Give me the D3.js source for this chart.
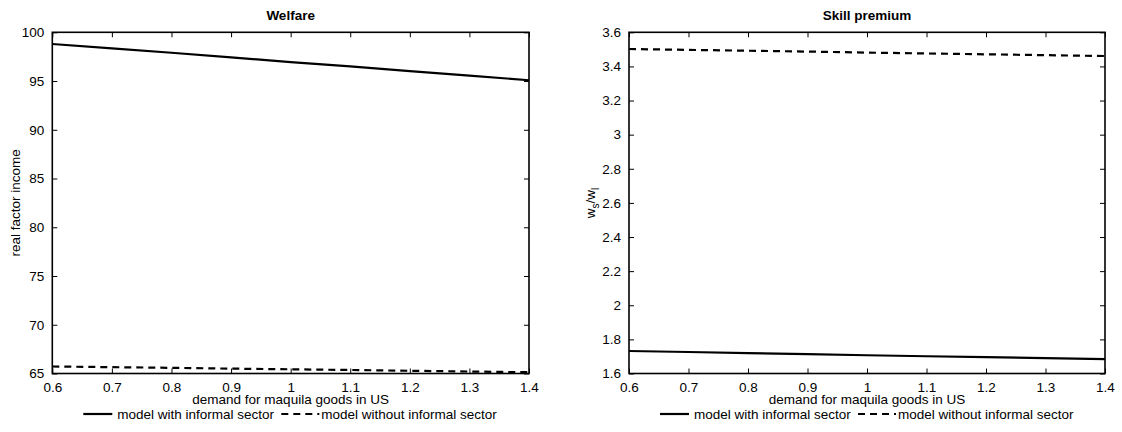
<!DOCTYPE html>
<html>
<head>
<meta charset="utf-8">
<script src="https://cdn.jsdelivr.net/npm/d3@7"></script>
<style>
  body { margin: 0; background: #fff; }
  svg { display: block; font-family: "Liberation Sans", Arial, Helvetica, sans-serif; }
  .tick text { font-size: 13.5px; fill: #000; }
</style>
</head>
<body>
<div id="chart"></div>
<script>
// demand for maquila goods in US
const demand = [0.6, 0.7, 0.8, 0.9, 1.0, 1.1, 1.2, 1.3, 1.4];

// Welfare: real factor income
const welfareInformal = [98.8, 98.35, 97.9, 97.42, 96.95, 96.5, 96.02, 95.56, 95.08];
const welfareNoInformal = [65.72, 65.65, 65.58, 65.5, 65.43, 65.36, 65.28, 65.2, 65.13];

// Skill premium: ws/wl
const skillInformal = [1.732, 1.726, 1.719, 1.713, 1.707, 1.701, 1.696, 1.69, 1.684];
const skillNoInformal = [3.502, 3.497, 3.492, 3.487, 3.481, 3.476, 3.471, 3.466, 3.461];

const xTicks = [0.6, 0.7, 0.8, 0.9, 1, 1.1, 1.2, 1.3, 1.4];
const welfareTicks = [65, 70, 75, 80, 85, 90, 95, 100];
const skillTicks = [1.6, 1.8, 2, 2.2, 2.4, 2.6, 2.8, 3, 3.2, 3.4, 3.6];

const seriesNames = ["model with informal sector", "model without informal sector"];

const W = 1122, H = 432;
const svg = d3.select("#chart").append("svg")
    .attr("width", W)
    .attr("height", H);

const plotTop = 32.3, plotBottom = 373.5;

function panel(opts) {
    const x = d3.scaleLinear().domain([0.6, 1.4]).range([opts.left, opts.right]);
    const y = d3.scaleLinear().domain(opts.yDomain).range([plotBottom, plotTop]);
    const g = svg.append("g");
    const tickLen = 5;

    // inward ticks on all four sides
    g.append("g").attr("transform", `translate(0,${plotBottom})`)
        .call(d3.axisBottom(x).tickValues(xTicks).tickSizeInner(-tickLen).tickSizeOuter(0).tickPadding(9).tickFormat(d3.format("~g")))
        .call(a => a.select(".domain").remove());
    g.append("g").attr("transform", `translate(0,${plotTop})`)
        .call(d3.axisTop(x).tickValues(xTicks).tickSizeInner(-tickLen).tickSizeOuter(0).tickFormat(""))
        .call(a => a.select(".domain").remove());
    g.append("g").attr("transform", `translate(${opts.left},0)`)
        .call(d3.axisLeft(y).tickValues(opts.yTicks).tickSizeInner(-tickLen).tickSizeOuter(0).tickPadding(8).tickFormat(d3.format("~g")))
        .call(a => a.select(".domain").remove());
    g.append("g").attr("transform", `translate(${opts.right},0)`)
        .call(d3.axisRight(y).tickValues(opts.yTicks).tickSizeInner(-tickLen).tickSizeOuter(0).tickFormat(""))
        .call(a => a.select(".domain").remove());
    g.selectAll(".tick line").attr("stroke", "#000").attr("stroke-width", 1);

    // box
    g.append("rect")
        .attr("x", opts.left).attr("y", plotTop)
        .attr("width", opts.right - opts.left).attr("height", plotBottom - plotTop)
        .attr("fill", "none").attr("stroke", "#000").attr("stroke-width", 1.6);

    const line = d3.line().x((d, i) => x(demand[i])).y(d => y(d));
    g.append("path").datum(opts.solid)
        .attr("d", line).attr("fill", "none")
        .attr("stroke", "#000").attr("stroke-width", 2.2);
    g.append("path").datum(opts.dashed)
        .attr("d", line).attr("fill", "none")
        .attr("stroke", "#000").attr("stroke-width", 2.2)
        .attr("stroke-dasharray", "7,5");

    const cx = (opts.left + opts.right) / 2;
    g.append("text").attr("x", cx).attr("y", 20)
        .attr("text-anchor", "middle").attr("font-size", 13.5).attr("font-weight", "bold")
        .text(opts.title);
    g.append("text").attr("x", cx).attr("y", 404)
        .attr("text-anchor", "middle").attr("font-size", 13.5)
        .text("demand for maquila goods in US");

    // y label
    const yl = g.append("text")
        .attr("transform", `translate(${opts.ylabelX},${(plotTop + plotBottom) / 2}) rotate(-90)`)
        .attr("text-anchor", "middle").attr("font-size", 13.5);
    if (opts.ylabel) {
        yl.text(opts.ylabel);
    } else {
        yl.append("tspan").text("w");
        yl.append("tspan").attr("font-size", 10).attr("dy", 4).text("s");
        yl.append("tspan").attr("dy", -4).text("/w");
        yl.append("tspan").attr("font-size", 10).attr("dy", 4).text("l");
    }

    // legend
    const lx = opts.left + 31, ly = 414;
    const leg = g.append("g");
    leg.append("line").attr("x1", lx).attr("x2", lx + 29).attr("y1", ly).attr("y2", ly)
        .attr("stroke", "#000").attr("stroke-width", 2.2);
    leg.append("text").attr("x", lx + 34).attr("y", ly + 5).attr("font-size", 13.5).text(seriesNames[0]);
    const dx = lx + 198;
    leg.append("line").attr("x1", dx).attr("x2", dx + 38).attr("y1", ly).attr("y2", ly)
        .attr("stroke", "#000").attr("stroke-width", 2.2).attr("stroke-dasharray", "7,5");
    leg.append("text").attr("x", dx + 40).attr("y", ly + 5).attr("font-size", 13.5).text(seriesNames[1]);
}

panel({
    left: 52.3, right: 529, yDomain: [65, 100], yTicks: welfareTicks,
    solid: welfareInformal, dashed: welfareNoInformal,
    title: "Welfare", ylabel: "real factor income", ylabelX: 20
});
panel({
    left: 629, right: 1105, yDomain: [1.6, 3.6], yTicks: skillTicks,
    solid: skillInformal, dashed: skillNoInformal,
    title: "Skill premium", ylabel: null, ylabelX: 595
});
</script>
</body>
</html>
